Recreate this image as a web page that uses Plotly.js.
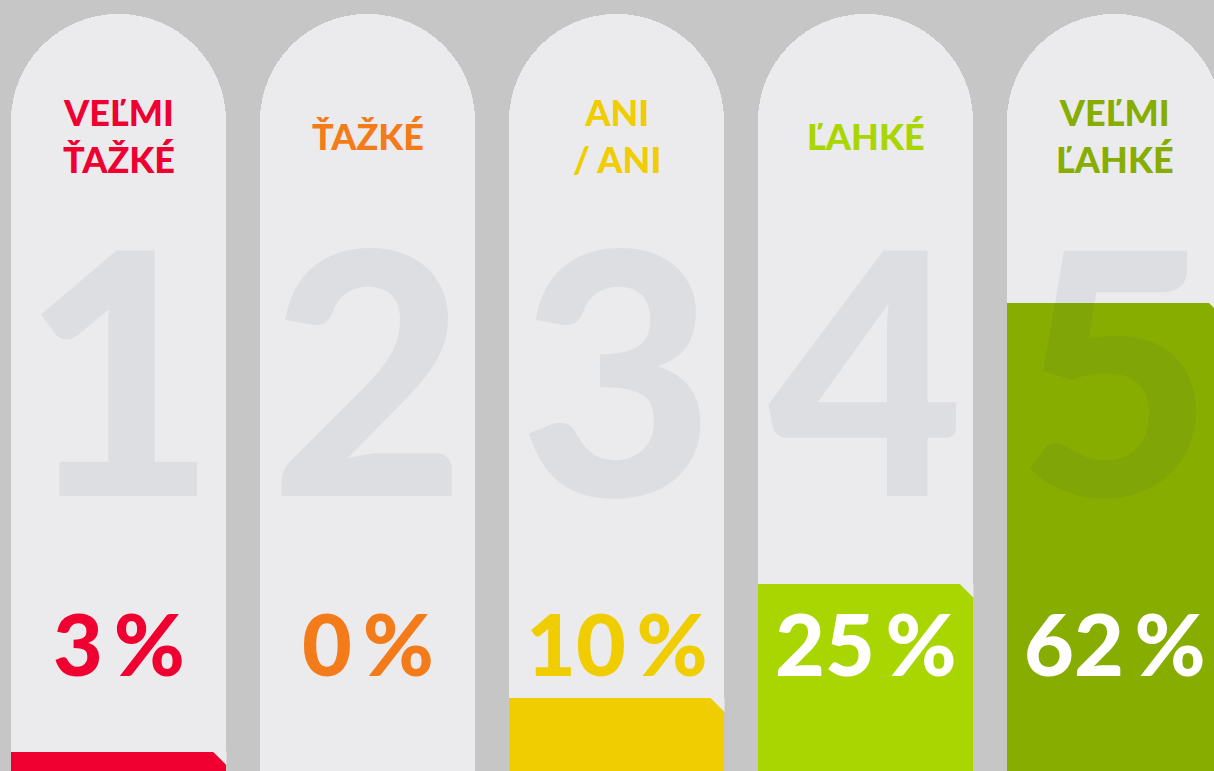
<!DOCTYPE html>
<html>
<head>
<meta charset="utf-8">
<script src="https://cdn.plot.ly/plotly-3.0.1.min.js"></script>
<style>
  html, body { margin: 0; padding: 0; background: #c6c6c6; }
  #chart { width: 1214px; height: 771px; }
</style>
</head>
<body>
<div id="chart"></div>
<script>
// ---- data ----
const ratings = [1, 2, 3, 4, 5];
const labels = ['VEĽMI<br>ŤAŽKÉ', 'ŤAŽKÉ', 'ANI<br>/ ANI', 'ĽAHKÉ', 'VEĽMI<br>ĽAHKÉ'];
const shares = [3, 0, 10, 25, 62];
const percentLabels = ['3\u2009%', '0\u2009%', '10\u2009%', '25\u2009%', '62\u2009%'];
const fullScale = [100, 100, 100, 100, 100];
const colors = ['#ef0031', '#f47b1a', '#f0cd00', '#a9d600', '#87ad00'];

// ---- style ----
const bg = '#c6c6c6';
const pill = '#ebebed';
const barWidth = 0.8635;
const fontFam = 'Lato, "Open Sans", "DejaVu Sans", sans-serif';
const xs = ratings.map((r, i) => i);

const traces = [
  {
    type: 'bar', x: xs, y: fullScale, width: barWidth,
    marker: { color: pill, cornerradius: '50%', line: { width: 0 } },
    hoverinfo: 'skip'
  },
  {
    type: 'bar', x: xs, y: shares, width: barWidth,
    marker: { color: colors, line: { width: 0 } },
    hoverinfo: 'skip'
  }
];

const annotations = [];
const shapes = [];
xs.forEach((x, i) => {
  // big faded rating number
  annotations.push({
    x: x, y: 53.8, xref: 'x', yref: 'y', text: String(ratings[i]),
    showarrow: false, xanchor: 'center', yanchor: 'middle',
    font: { family: fontFam, size: 338, weight: 900, color: 'rgba(60,70,95,0.075)' }
  });
  // category label
  annotations.push({
    x: x, y: 84, xref: 'x', yref: 'y', text: labels[i],
    showarrow: false, xanchor: 'center', yanchor: 'middle',
    font: { family: fontFam, size: 36, weight: 900, color: colors[i] }
  });
  // percent label
  const inside = shares[i] > 20;
  annotations.push({
    x: x, y: 17.3, xref: 'x', yref: 'y', text: percentLabels[i],
    showarrow: false, xanchor: 'center', yanchor: 'middle',
    font: { family: fontFam, size: 86, weight: 900, color: inside ? '#ffffff' : colors[i] }
  });
  // cut corner on bar top-right
  if (shares[i] > 0) {
    shapes.push({
      type: 'path', xref: 'x', yref: 'y',
      xsizemode: 'pixel', ysizemode: 'pixel',
      xanchor: x + barWidth / 2, yanchor: shares[i],
      path: 'M -13.5 0.5 L 0.5 0.5 L 0.5 -13.5 Z',
      fillcolor: pill, line: { width: 0 }, layer: 'above'
    });
  }
});

const layout = {
  width: 1214, height: 771,
  margin: { l: 0, r: 0, t: 0, b: 0, pad: 0 },
  paper_bgcolor: bg, plot_bgcolor: bg,
  barmode: 'overlay', bargap: 0,
  showlegend: false,
  xaxis: { range: [-0.4759, 4.3996], visible: false, fixedrange: true },
  yaxis: { range: [0.46, 101.84], visible: false, fixedrange: true },
  annotations: annotations,
  shapes: shapes
};

Plotly.newPlot('chart', traces, layout, { displayModeBar: false, staticPlot: true });
</script>
</body>
</html>
